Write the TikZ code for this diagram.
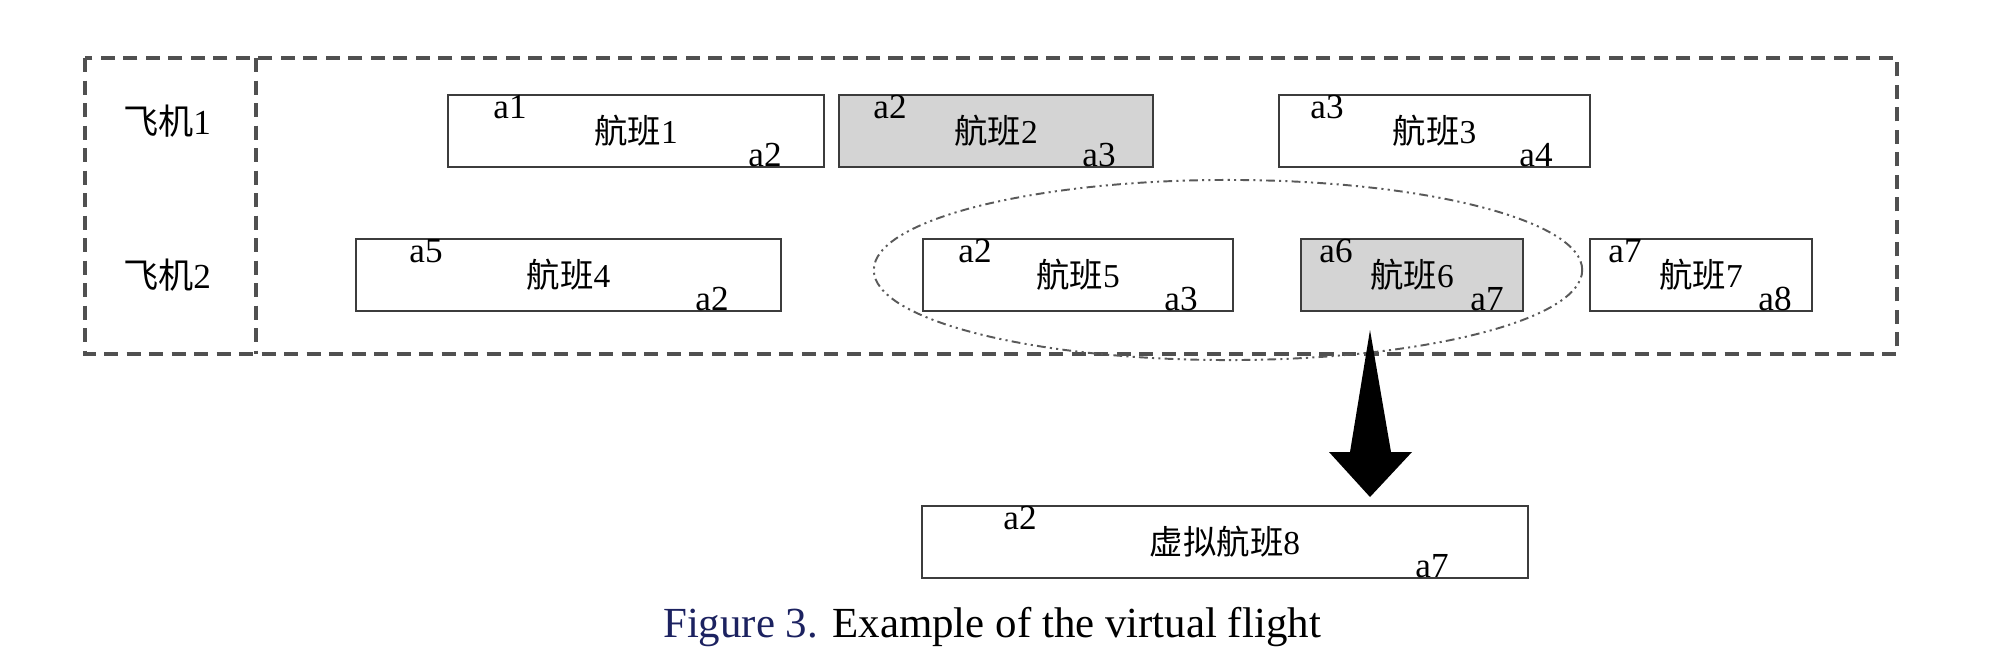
\documentclass[tikz,border=0pt]{standalone}
\usepackage{fontspec}
\setmainfont{Liberation Serif}
\newfontfamily\cjk{Noto Sans CJK SC}
\usetikzlibrary{shapes.geometric}
\definecolor{boxline}{RGB}{60,60,60}
\definecolor{boxgray}{RGB}{212,212,212}
\definecolor{frameline}{RGB}{80,80,80}
\definecolor{capblue}{RGB}{28,34,96}
\tikzset{
  fbox/.style={draw=boxline, line width=0.7pt, rectangle, minimum height=0.72cm, inner sep=0pt, font=\fontsize{9.5}{11}\selectfont},
  grayfill/.style={fill=boxgray},
  lab/.style={anchor=base, inner sep=0pt, font=\fontsize{10}{12}\selectfont},
  framestyle/.style={draw=frameline, line width=0.95pt, dash pattern=on 4pt off 2.4pt},
  selstyle/.style={draw=black!65, line width=0.55pt, dash pattern=on 2.5pt off 1.2pt on 0.6pt off 1.2pt on 0.6pt off 1.2pt},
  planelab/.style={inner sep=0pt, font=\fontsize{10}{12}\selectfont}
}
\begin{document}
\begin{tikzpicture}[x=0.01cm, y=-0.01cm]
\useasboundingbox (0,0) rectangle (2000,648);
\clip (0,0) rectangle (2000,648);
% frame
\draw[framestyle] (85,58) rectangle (1897,354);
\draw[framestyle] (256,58) -- (256,354);
\node[planelab] (p1) at (167,121) {{\cjk 飞机}1};
\node[planelab] (p2) at (167,275) {{\cjk 飞机}2};
% row 1
\node[fbox, minimum width=3.76cm] (f1) at (636,131) {{\cjk 航班}1};
\node[lab] (f1a) at (510,118) {a1};
\node[lab] (f1b) at (765,166) {a2};
\node[fbox, grayfill, minimum width=3.14cm] (f2) at (996,131) {{\cjk 航班}2};
\node[lab] (f2a) at (890,118) {a2};
\node[lab] (f2b) at (1099,166) {a3};
\node[fbox, minimum width=3.11cm] (f3) at (1434.5,131) {{\cjk 航班}3};
\node[lab] (f3a) at (1327,118) {a3};
\node[lab] (f3b) at (1536,166) {a4};
% row 2
\node[fbox, minimum width=4.25cm] (f4) at (568.5,275) {{\cjk 航班}4};
\node[lab] (f4a) at (426,262) {a5};
\node[lab] (f4b) at (712,310) {a2};
\node[fbox, minimum width=3.10cm] (f5) at (1078,275) {{\cjk 航班}5};
\node[lab] (f5a) at (975,262) {a2};
\node[lab] (f5b) at (1181,310) {a3};
\node[fbox, grayfill, minimum width=2.22cm] (f6) at (1412,275) {{\cjk 航班}6};
\node[lab] (f6a) at (1336,262) {a6};
\node[lab] (f6b) at (1487,310) {a7};
\node[fbox, minimum width=2.22cm] (f7) at (1701,275) {{\cjk 航班}7};
\node[lab] (f7a) at (1625,262) {a7};
\node[lab] (f7b) at (1775,310) {a8};
% selection ellipse
\node[selstyle, ellipse, minimum width=7.08cm, minimum height=1.80cm, inner sep=0pt] (sel) at (1228,270) {};
% big arrow
\fill[black] (1370,330) -- (1391,452) -- (1412,452) -- (1370,497) -- (1329,452) -- (1350,452) -- cycle;
% virtual flight
\node[fbox, minimum width=6.06cm] (f8) at (1225,542) {{\cjk 虚拟航班}8};
\node[lab] (f8a) at (1020,529) {a2};
\node[lab] (f8b) at (1432,577) {a7};
% caption
\node[anchor=base, inner sep=0pt, font=\fontsize{12.2}{14}\selectfont] (cap) at (992,637) {\textcolor{capblue}{Figure 3.} Example of the virtual flight};
\end{tikzpicture}
\end{document}
